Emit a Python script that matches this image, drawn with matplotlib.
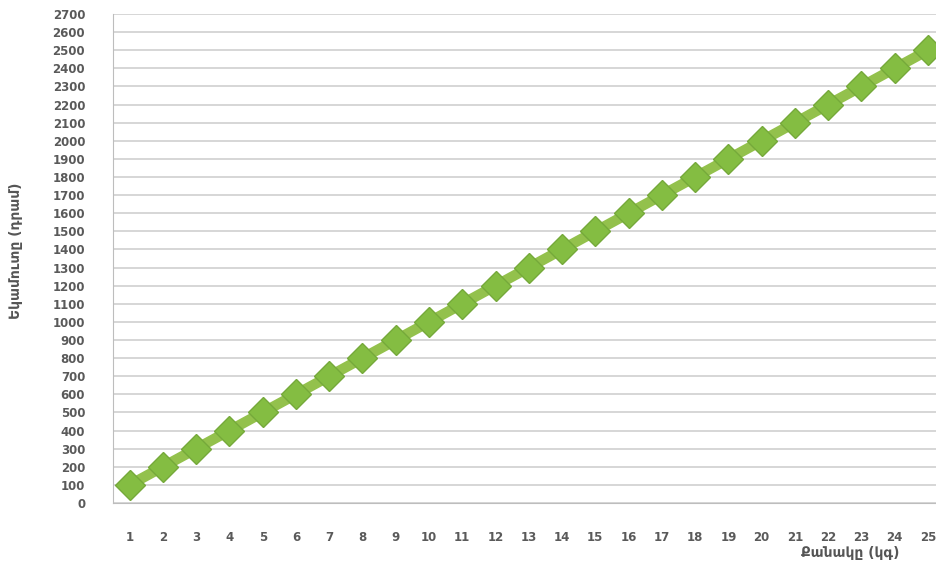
import matplotlib
matplotlib.use("Agg")
import matplotlib.pyplot as plt

quantity_kg = list(range(1, 26))
income_dram = [100, 200, 300, 400, 500, 600, 700, 800, 900, 1000,
               1100, 1200, 1300, 1400, 1500, 1600, 1700, 1800, 1900, 2000,
               2100, 2200, 2300, 2400, 2500]
y_ticks = list(range(0, 2800, 100))

fig = plt.figure(figsize=(9.37, 5.70), dpi=100)
ax = fig.add_axes([0.1206, 0.1175, 0.8794, 0.8579])

ax.plot(quantity_kg, income_dram, color="#93c14c", lw=7.5, solid_capstyle="round",
        zorder=3)
ax.plot(quantity_kg, income_dram, ls="none", marker="D", ms=15,
        markerfacecolor="#84bd42", markeredgecolor="#75a93a", markeredgewidth=1.0,
        zorder=4, clip_on=False)

ax.set_xlim(0.5, 25.27)
ax.set_ylim(0, 2700)
ax.set_xticks(quantity_kg)
ax.set_yticks(y_ticks)
ax.grid(axis="y", color="#cfcfcf", lw=1.2)
ax.set_axisbelow(True)
for s in ["top", "right"]:
    ax.spines[s].set_visible(False)
ax.spines["left"].set_color("#bdbdbd")
ax.spines["bottom"].set_color("#bdbdbd")
ax.tick_params(axis="both", length=0, colors="#5a5a5a", labelsize=8.5)
ax.tick_params(axis="y", pad=20)
ax.tick_params(axis="x", pad=20)
for lbl in ax.get_xticklabels() + ax.get_yticklabels():
    lbl.set_fontweight("bold")

fig.text(0.907, 0.03, "Քանակը (կգ)", ha="center", va="center",
         fontsize=10, color="#555555", fontweight="bold")
fig.text(0.017, 0.56, "Եկամուտը (դրամ)", ha="center", va="center",
         rotation=90, fontsize=10, color="#555555", fontweight="bold")

fig.savefig("out.png", dpi=100)
